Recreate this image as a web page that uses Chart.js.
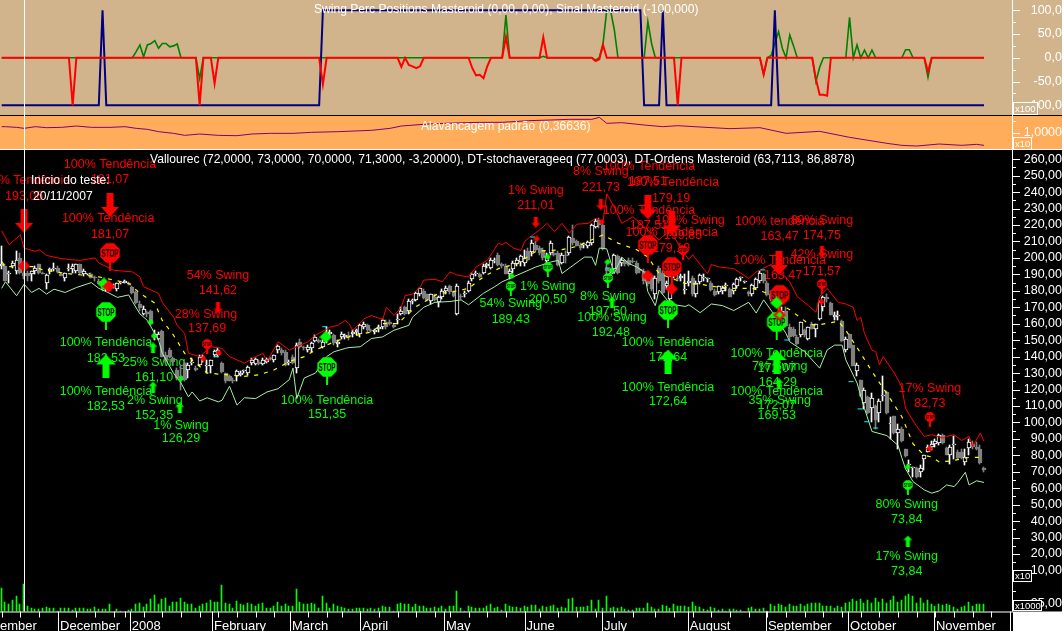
<!DOCTYPE html>
<html>
<head>
<meta charset="utf-8">
<title>Vallourec</title>
<script src="https://cdn.jsdelivr.net/npm/chart.js@4/dist/chart.umd.min.js"></script>
<style>
  html, body { margin: 0; height: 100%; background: #000; overflow: hidden; }
  #chart { position: absolute; left: -40px; top: 0; }
</style>
</head>
<body>
<canvas id="chart" width="1102" height="631"></canvas>
<script>
/* =========================
   DATA
========================= */

// month ticks on the bar index axis
const monthIdx = [-7.2, 15.1, 34.3, 56.3, 77.2, 96, 118.4, 140, 160.7, 183.7, 204.6, 226.6, 249.6, 270];
const monthNames = ["November", "December", "2008", "February", "March", "April", "May", "June", "July", "August", "September", "October", "November", ""];
const weekIdx = [0,5,10,20,25,30,33,38,43,48,53,58,63,68,73,82,87,91,96,101,106,111,116,120,125,130,135,140,144,149,154,159,164,169,175,180,185,190,195,200,205,210,215,220,225,230,235,240,245,250,255,260,265];

const opens = [
  195,195,190,195,192,200,191,191,190,192, 196,191,185,192,193,194,190,188,193,193,
  192,196,190,190,190,188,186,184,182,183, 183,181,185,185,185,182.5,179,172,166,167,
  168,152,151,155.5,141,144,139,132,128,136, 132,136,133,135,139,134,134,141,141,136,
  130,128,126,128,129,131,130,136,135.5,137, 135.5,137,139,138,144,144,143,136,140,133,
  149,146,144,145.5,149.5,150,146,152,154,153, 147.5,152,152,153,154,155,154,158,159,156,
  155,157,158,161,161,159,162,166,170,168, 174,174.5,178,180,178,174,176,173,176.5,180,
  183,179,166,177,178,180,187,190,190,191, 195,194,198,202,196,195,190,193,196,197.5,
  197,204,203.5,208,206,204,198,203,203,203, 197,202,203,212,210,208,208,207,209,219,
  223,220,194,190,193,201,197,198,199,198, 197,193,192,186,189,178,194,191,183,175,
  190,188,188,180.5,185,188,178,185.5,187.5,187, 185,180,179.5,180,183,181,180,183,187.5,185.5,
  179,178,182,186,190,185,178,175,172,166, 168,158,157,152,153,156,151,160,156.5,163,
  170,176,172.5,164,164.5,161.5,144,153.5,147,131, 126,112,115.5,109,110,105.5,116,118.5,99,104,
  93.5,96,84,74,72,72,70,77.5,82,85, 87,87.5,92.5,84.5,80.5,86,82,82,76,84.5,
  87,85,84,72
];
const highs = [
  207,196,192,198,204,203,192,192,192,195, 196,191.5,190,194,197,195,191,191,196,196,
  196,196.5,193,190.5,191,189,187,186,184,185, 184,185,185.5,186.5,185.5,183,180,174,171,168,
  168.5,156,155,156,143,145,140,133,135,137, 136,139,134,141,141,138,138,144,145,137,
  130,129,127,132,131,132,134,139,139,138, 139,139,140,141,147,145,144,138,141,148,
  151,146.5,147,149,153,151,150,158,156,154, 150,155,154,155,156,157,160,161,160,157,
  157,159,163,162,162,160,166,170,171,175, 175,179,182,181,178,178,178,177,181,183,
  183.5,180,184,178,180,186,191,192,191,196, 197,200,200,203,197,196,193,198,200,202,
  205,206,211,210,207,206,203,210,204,204, 203,204,213.5,220,211,209,209,210,220.5,223.5,
  224,221,198,193,202.5,202,200,199,200,200, 198,194,193,187,190,189,195,192,186,190,
  193,192,190,190,192,189,186,190,190,188, 186,181,183,183,185,182,185,188,188.5,186,
  180,184,188,192,191,186,180,176,175,170, 170,160,158,153,161,157,158,161,160,174,
  177,178,173,167,168,162,152,154,147,136, 126,121,116,118,110.5,114,128.5,119,103,104,
  99,97,84,77,73,73,74,80.5,86,89, 90,93,93,85,86,91.5,83,84,84,90,
  89,88,86,73
];
const lows = [
  193,186,185,194,190,190,187,186,186,190, 190,190,181,190,192,191,189,186,192,191,
  191,190,189,189.5,188,186,184,180,180,181, 182,180,184,184.5,183.5,178,172,168,165,164,
  159,150,150,140,136,139,135,126,120,125, 127,135,131,134,137,130,130,140,140,130,
  124,125,124,125,128,130,129,135,135,135, 135,136,138,137,142,141,134.5,135,135.5,130,
  145,144,143,143,149,148,145,148,152,147, 146,151,151,150,152,153,152,157,155,155,
  154,155,157,157,159,157.5,160,165,165,166, 172,174,177,175,174,172,174,170,175,178,
  178,176,165,175,176,179,186,189,188,190, 194,193,197,195,194,190,187,191,195,195,
  195,198,201,204,202,199,196,202,201,195, 196,197,202,208,207,205,206,206,208,218,
  218,205,190,187,191,190,195,195,195,197, 190,191,184,183,180,175,185,178,181,174,
  188,186,186,178,183,177,176,184,186,185.5, 180,177,178,178,180,176,178,182,186,185,
  177,177,181,185,185,177,174,172,168,160, 158,150,152,147,152,152,150,157,152,162,
  168,173,165,162,162,149,143,145,134,128, 115.5,108,105,100,96,100,113,105,90,93,
  84,88,79,70,67,66.5,67,71,82,83, 85,86,87,80,75,78,78,78,74,80,
  84,83,75,70
];
const closes = [
  196,186,191,197,199,191,189,189,192,194, 191,190.5,189.5,193,194,191.5,189,191,194,195,
  196,191,192,190,188,187.5,184,181,183,182, 183,185,185,186,184,178.5,172.5,169.5,169,166,
  160,154,154,140,138,140,137,127,126,126, 135,137,132,140,140,134,138,143.5,144,130.5,
  125,125,125,131,130,131.5,133.5,138,138.5,135.5, 138,138.5,138.5,141,146.5,142,135,136,136,147,
  146,145,146,148,152,149,149,154,155,148, 149,154,153,152,155,156,159,160,156,155.5,
  156,158,162.5,158,160,158,162.5,168,166,174, 174.5,178.5,182,175.5,174.5,178,174.5,176,180,182,
  179,177,183,176,178.5,185,190,191,188.5,195, 196,199,198.5,195.5,195,190.5,192,197,199,201,
  200,199,209,205,203,200,201,209,202,195.5, 202,201,213,209,207.5,206,208,209.5,220,222.5,
  220,205.5,192,190,202,191,199,196,195.5,197.5, 191,192,186,184,181,188,186,178.5,185,189,
  192,187,189,181,186,178,185,189.5,188,187.5, 180.5,177.5,183,182,183.5,176.5,184,187,188,185.5,
  178,183.5,187,191,186,177.5,175,174,170,168, 158.5,152,152.5,147.5,161,153,158,157,160,173.5,
  176,175,165.5,165.5,164.5,149.5,151,145,134.5,135, 116,120,106,115,101.5,113,116.5,105.5,99,93.5,
  96,88.5,79.5,74.5,72,67,72.5,80,85,87, 89,92.5,87.5,80.5,85,86,78.5,78.5,79,88,
  85,84,75.5,71.3
];

const upperIdx = [0,2,5,6,9,10,12,15,18,21,25,26,30,35,37,38,42,43,44,46,47,49,50,53,56,59,61,65,68,70,71,74,77,79,82,84,88,90,92,93,94,97,99,102,103,105,107,108,110,112,113,116,118,120,122,125,127,130,133,134,135,137,139,140,141,144,146,148,150,152,154,157,159,161,162,164,166,169,172,176,179,182,184,185,187,189,190,192,196,200,202,206,209,211,213,216,218,219,221,224,226,228,229,230,231,233,234,235,236,239,241,242,245,247,249,252,253,255,257,259,260,262,263];
const upperVal = [216.5,208,214,206,204,205,201.5,200,199,198.5,200,197,192.5,191.5,188.5,182.5,178.5,173,170,164,159,154,142,140,146,145,140,136,140,142,137,149,144,146,149,153,158,159,162,160,156,163,165,162.5,170,165,170,177,178,182,186.5,187,185.5,191.5,189.5,188.5,194.5,198.5,209,208,209.5,206,204.5,210,212,217,221,216,221,215,220.5,221,224,222,239,231,221,225,219,211,217,205,199,202,196,190.5,196,194.5,193.5,187.5,191.5,196,190.5,185.5,176.5,171,167,176.5,181.5,173,172,170,162,164,154,144,143,135,140,130,121.5,108.5,97.5,91.5,92.5,90.5,91.5,92.5,89,91.5,85.5,93.5,88.5];

const lowerIdx = [0,1,4,6,8,10,12,14,17,20,24,26,28,31,34,35,37,39,42,43,46,48,50,51,53,55,58,59,61,63,65,68,71,74,77,78,79,81,84,87,89,92,93,96,99,102,105,109,110,113,116,120,123,125,129,132,134,138,143,147,149,150,153,156,158,159,160,162,164,166,168,170,172,173,175,176,179,183,184,187,190,193,196,200,202,204,207,210,211,215,217,219,221,223,225,226,229,231,233,237,240,241,242,244,247,249,251,253,255,256,258,259,261,263];
const lowerVal = [181.5,185.5,177,184,179,181.5,178,181,179,182,185,181.5,179.5,176,177.5,173.5,166,162,150,142,130,124,115.5,118.5,113,115,112.5,113.5,122,110.5,115,114.5,118.5,120.5,126,133,114.5,127,130,140,143,145,145.5,146,151,152,156,159,164,170,173,173.5,174.5,171.5,178.5,182.5,185.5,189.5,194.5,197.5,198.5,190.5,195.5,200.5,200.5,195.5,206,205.5,190.5,200.5,196.5,194.5,191.5,179.5,171,180.5,172,170.5,171.5,166.7,172,171,168,173,166.5,174.5,165,154,149,143,138,133,144,147,147,138,124,108.5,94.5,92,86,78.5,71.7,64,59,57,58.4,62,61,63.5,69.7,62,64.5,63.5];

const avgIdx = [0,1,9,11,17,22,26,30,34,37,41,43,46,49,52,55,60,65,69,73,77,81,84,89,93,99,102,106,111,117,120,125,129,133,138,143,150,154,158,161,165,170,173,176,183,187,191,196,201,205,208,211,216,218,224,226,230,233,238,241,244,247,249,251,254,259,262];
const avgVal = [197.7,194.7,194.7,192.6,190.6,189.5,188.5,186.6,184.5,178.5,172.5,162,153,142,136,130,129,128,129,132,137,140,144,149,152,155,160,160,170.5,178.5,179,181.5,188.5,193.5,196.5,204,205,207,211,214,209,205,200.5,190.5,184.5,184,182.5,181.5,181.5,178.5,172.5,168.5,160,159,161.5,156,142,131,114,103.5,87,80,79,76,76.5,78.7,78.7];

const volumes = [
  72,28,22,36,48,22,82,18,12,7, 9,12,15,12,12,2,12,12,12,6,
  10,12,12,9,9,15,9,9,9,22, 0,9,3,0,6,9,22,27,15,22,
  38,50,22,38,42,18,30,30,42,30, 22,22,12,16,22,25,36,30,30,80,
  27,22,12,33,22,20,25,22,16,22, 25,12,12,18,30,18,22,16,18,68,
  30,22,22,25,22,12,48,27,12,22, 18,15,12,9,9,10,10,12,9,12,
  9,12,18,15,15,3,22,25,22,22, 15,22,18,18,12,12,15,12,18,9,
  18,18,63,12,3,18,15,12,12,12, 18,22,12,15,6,22,18,15,15,12,
  18,15,20,20,8,18,15,18,20,12, 15,12,38,42,15,15,15,18,36,8,
  36,12,48,12,15,12,15,8,6,6, 12,12,12,27,15,9,9,20,18,12,
  24,18,18,18,15,30,18,15,9,6, 15,12,6,9,3,9,9,6,6,0,
  12,15,9,9,12,3,22,18,22,20, 15,24,18,18,24,18,24,27,27,27,
  18,18,18,12,18,15,27,30,38,33, 38,27,36,27,40,30,38,27,36,48,
  30,36,48,54,48,27,42,27,36,24, 18,24,20,24,20,15,9,15,18,30,
  18,24,24,24
];

const swingGreenIdx = [0,35,36,37,38,39,40,41,42,43,44,45,46,47,48,52,53,54,134,135,136,144,145,146,158,159,160,161,162,163,164,165,172,173,174,175,203,204,205,206,207,208,209,210,211,212,213,217,218,219,220,226,227,228,229,230,231,232,233,234,241,242,243,244,247,248,249,263];
const swingGreenVal = [0,0,13,27,2,27,30,36,20,30,30,23,25,29,0,0,-44,0,0,90,0,0,3,0,0,-5,0,30,100,100,60,0,0,76,30,0,0,-35,0,5,30,55,20,0,48,25,0,0,-50,-20,0,0,85,0,27,0,16,0,16,0,0,17,17,0,0,-41,0,0];
const swingRedIdx = [0,18,19,20,52,53,54,56,57,58,85,86,87,106,107,108,109,110,111,112,113,125,126,127,128,129,130,131,134,135,136,144,145,146,158,159,160,161,162,180,181,182,203,204,205,217,218,219,220,221,222,247,248,249,263];
const swingRedVal = [0,0,-100,0,0,-100,0,0,-54,0,0,-56,0,0,-19,0,-15,-18,-22,-18,0,0,-22,-37,-36,-43,-18,0,0,44,0,0,43,0,0,-7,-3,27,0,0,-100,0,0,-35,0,0,-45,-78,-78,-80,0,0,-30,0,0];
const signalIdx = [0,26,27,28,85,86,171,172,176,177,178,206,207,208,263];
const signalVal = [-100,-100,100,-100,-100,100,100,-100,-100,100,-100,-100,100,-100,-100];

const leverageIdx = [0,1,4,6,9,12,16,20,24,29,33,36,39,42,46,49,53,58,63,67,72,78,83,90,99,104,107,114,121,128,134,141,147,152,158,160,162,166,172,177,181,187,195,203,210,219,227,237,241,245,251,257,261,263];
const leverageVal = [1.321,1.321,1.287,1.237,1.321,1.271,1.287,1.355,1.287,1.287,1.321,1.237,1.186,1.067,0.983,0.881,0.949,0.881,0.864,0.949,0.983,0.983,1.034,1.067,1.135,1.237,1.355,1.456,1.507,1.541,1.541,1.626,1.66,1.694,1.694,1.795,1.491,1.525,1.406,1.321,1.372,1.304,1.22,1.271,0.983,1.084,0.78,0.475,0.374,0.34,0.441,0.374,0.424,0.374];

const cyanMarks = [[57.5,140],[86.5,158.2],[142.2,212.7],[162.3,193.9],[203.8,192.7],[210.2,150.1],[227.4,124.8],[229.8,108.2],[231.6,100.4],[234,96.6]];

// order marks: [bar index, price]
const redBigArrows = [[6,222.5],[29,232.2],[173,230.7],[179.4,221],[208.1,196.9]];
const redSmallArrows = [[57.9,169.6],[143,221.8],[160.4,232.5],[219.6,203.6]];
const greenBigArrows = [[27.9,134],[178.4,137],[207.5,136.7]];
const greenSmallArrows = [[40.5,145.3],[40.5,121.5],[47.7,108.8],[163.4,173.2],[208.1,123.4],[242.6,27.9]];
const redBigStops = [[29,203],[173,207.9],[179.4,194.5],[208.3,177.5]];
const greenBigStops = [[27.9,167.1],[178.4,168.3],[87.1,133.7],[207.5,161.1]];
const redSmallStops = [[55,147.7],[182.4,204.8],[219.6,184.2],[248.5,103.3]];
const greenSmallStops = [[136.3,182.9],[146.2,194.5],[162.3,187.8],[242.6,62]];
const greenBigDiamonds = [[27.4,184.2],[86.8,151.9],[207.5,172.6]];
const redBigDiamonds = [[6,195.1],[28.7,182.6],[173,189],[179.4,181.1],[208.3,165.3]];
const redSmallDiamonds = [[143.3,211.5],[160.7,221.8],[54,138.6],[58.2,142.2],[248.5,84],[219.6,173.2]];
const greenSmallDiamonds = [[39.9,161],[40.8,152.5],[48,126.4],[136.6,189],[146.2,200.6],[162.3,197.5],[163.4,192.1],[242.6,72.9],[208.3,165.3]];

// order texts: [text, bar index, price]
const redTexts = [
  ["100% Tendência",29,256.5],["181,07",29,247.4],["100% Tendência",6,246.9],["193,06",6,237.2],
  ["100% Tendência",28.5,223.7],["181,07",29,214.5],["54% Swing",57.9,189],["141,62",57.9,179.9],
  ["28% Swing",54.7,165.3],["137,69",55,156.8],["1% Swing",143,240.7],["211,01",143,231.6],
  ["8% Swing",160.4,252.2],["221,73",160.4,242.5],["100% Tendência",173.3,255.3],["187,51",173,246.2],
  ["100% Tendência",179.7,245.6],["179,19",179.2,235.8],["100% Tendência",173.3,228.5],["187,51",173.3,219.4],
  ["100% Swing",184.3,222.5],["199,85",182.4,213.3],["100% Tendência",179.4,215.2],["179,19",179.2,206],
  ["100% tendência",208.3,222],["163,47",208.3,212.7],["80% Swing",219.6,223],["174,75",219.6,213.5],
  ["42% Swing",219.6,201.8],["171,57",219.6,192],["100% Tendência",208.3,198.1],["163,47",209.2,189],
  ["17% Swing",248.5,120.3],["82,73",248.5,111.2]
];
const greenTexts = [
  ["100% Tendência",27.9,148.3],["182,53",27.9,138.6],["100% Tendência",27.9,118.5],["182,53",27.9,109.4],
  ["25% Swing",40.8,136.1],["161,10",40.8,127],["2% Swing",41,113],["152,35",40.8,103.9],
  ["1% Swing",48,98.4],["126,29",48,89.9],["100% Tendência",87.1,113.6],["151,35",87.1,104.5],
  ["54% Swing",136.3,172],["189,43",136.3,162.3],["1% Swing",146.2,182.9],["200,50",146.2,174.4],
  ["8% Swing",162.3,176.3],["197,50",162.3,167.7],["100% Swing",163.4,163.5],["192,48",163.1,154.4],
  ["100% Tendência",178.4,148.5],["172,64",178.4,139.2],["100% Tendência",178.4,121.5],["172,64",178.4,112.4],
  ["100% Tendência",207.5,141.6],["172,07",207.5,132.5],["7% Swing",208.3,133.7],["164,29",207.8,124.1],
  ["100% Tendência",207.5,118.7],["172,07",207.5,110],["35% Swing",208.3,113],["169,53",207.5,104.1],
  ["80% Swing",242.3,49.9],["73,84",242.3,40.7],["17% Swing",242.3,18.4],["73,84",242.3,9.3]
];

const swingTicks = [100, 50, 0, -50, -100];
const leverageTicks = [1];
const priceTicks = [260,250,240,230,220,210,200,190,180,170,160,150,140,130,120,110,100,90,80,70,60,50,40,30,20,10];
const volumeTicks = [25];

/* =========================
   ICONS FOR THE ORDER MARKS
========================= */

const FONT = '"Liberation Sans", Arial, sans-serif';
const LIME = "#00ff00";
const RED = "#ff0000";
const LEFT_SHIFT = 40; // canvas starts left of the window, month and order text is cut there

function newIcon(w, h) {
  const c = document.createElement("canvas");
  c.width = w;
  c.height = h;
  return c;
}

function arrowIcon(color, up, w, h, shaft) {
  const c = newIcon(w, h), g = c.getContext("2d");
  const head = h * 0.42;
  g.fillStyle = color;
  if (!up) { g.translate(0, h); g.scale(1, -1); }
  g.beginPath();
  g.moveTo(w / 2, 0);
  g.lineTo(w, head);
  g.lineTo(w / 2 + shaft / 2, head);
  g.lineTo(w / 2 + shaft / 2, h);
  g.lineTo(w / 2 - shaft / 2, h);
  g.lineTo(w / 2 - shaft / 2, head);
  g.lineTo(0, head);
  g.closePath();
  g.fill();
  return c;
}

function stopIcon(color, r, stem, fontPx) {
  const w = r * 2 + 2, h = stem * 2 + 2;
  const c = newIcon(w, h), g = c.getContext("2d");
  const cx = w / 2, cy = h / 2;
  g.fillStyle = color;
  g.fillRect(cx - 1, cy, 2, stem);
  g.beginPath();
  for (let i = 0; i < 8; i++) {
    const a = Math.PI / 8 + i * Math.PI / 4;
    g.lineTo(cx + Math.cos(a) * r * 1.05, cy + Math.sin(a) * r * 1.05);
  }
  g.closePath();
  g.fill();
  g.fillStyle = "#000000";
  g.font = "bold " + fontPx + "px " + FONT;
  g.textAlign = "center";
  g.textBaseline = "middle";
  g.fillText("STOP", cx, cy + 0.5, r * 1.7);
  return c;
}

function diamondIcon(color, r) {
  const c = newIcon(r * 2 + 1, r * 2 + 1), g = c.getContext("2d");
  const m = r + 0.5;
  g.fillStyle = color;
  g.beginPath();
  g.moveTo(m, 0);
  g.lineTo(m + r, m);
  g.lineTo(m, m + r);
  g.lineTo(0, m);
  g.closePath();
  g.fill();
  return c;
}

/* =========================
   DATASETS
========================= */

const xy = (xs, ys) => xs.map((x, i) => ({ x: x, y: ys[i] }));
const pts = list => list.map(p => ({ x: p[0], y: p[1] }));
const isUp = i => closes[i] >= opens[i];

function lineSet(idx, val, axis, color, width, dash) {
  return {
    type: "line", yAxisID: axis, data: xy(idx, val),
    borderColor: color, borderWidth: width, borderDash: dash || [],
    pointRadius: 0, tension: 0, fill: false
  };
}

function markSet(list, icon) {
  return {
    type: "scatter", yAxisID: "price", data: pts(list),
    pointStyle: icon, pointRadius: 6, showLine: false
  };
}

const datasets = [
  lineSet(swingGreenIdx, swingGreenVal, "swing", "#008000", 1.6),
  lineSet(signalIdx, signalVal, "swing", "#000080", 2),
  lineSet(swingRedIdx, swingRedVal, "swing", RED, 2),
  lineSet(leverageIdx, leverageVal, "leverage", "#800080", 1),
  {
    type: "bar", yAxisID: "volume", grouped: false, barThickness: 1,
    data: volumes.map((v, i) => ({ x: i, y: v })),
    backgroundColor: LIME
  },
  {
    type: "bar", yAxisID: "price", grouped: false, barThickness: 1,
    data: lows.map((l, i) => ({ x: i, y: [l, highs[i]] })),
    backgroundColor: lows.map((l, i) => isUp(i) ? "#ffffff" : "#808080")
  },
  {
    type: "bar", yAxisID: "price", grouped: false, barThickness: 4, minBarLength: 1,
    data: opens.map((o, i) => ({ x: i, y: [o, closes[i]] })),
    backgroundColor: opens.map((o, i) => isUp(i) ? "#000000" : "#808080"),
    borderColor: opens.map((o, i) => isUp(i) ? "#ffffff" : "#808080"),
    borderWidth: 1, borderSkipped: false
  },
  lineSet(upperIdx, upperVal, "price", RED, 1),
  lineSet(lowerIdx, lowerVal, "price", "#a8f0a8", 1),
  lineSet(avgIdx, avgVal, "price", "#ffff00", 1.2, [4, 6]),
  {
    type: "scatter", yAxisID: "price", data: pts(cyanMarks),
    pointStyle: "line", pointRadius: 2.5, borderColor: "#00ffff", borderWidth: 1, showLine: false
  },
  markSet(greenBigStops, stopIcon(LIME, 10, 18, 11)),
  markSet(redBigStops, stopIcon(RED, 10, 18, 11)),
  markSet(greenSmallStops, stopIcon(LIME, 5, 10, 6)),
  markSet(redSmallStops, stopIcon(RED, 5, 10, 6)),
  markSet(redBigArrows, arrowIcon(RED, false, 18, 24, 7)),
  markSet(greenBigArrows, arrowIcon(LIME, true, 20, 24, 7)),
  markSet(redSmallArrows, arrowIcon(RED, false, 9, 11, 4)),
  markSet(greenSmallArrows, arrowIcon(LIME, true, 9, 11, 4)),
  markSet(greenBigDiamonds, diamondIcon(LIME, 6)),
  markSet(redBigDiamonds, diamondIcon(RED, 6)),
  markSet(redSmallDiamonds, diamondIcon(RED, 3)),
  markSet(greenSmallDiamonds, diamondIcon(LIME, 3))
];
// chart.js paints the lowest order last
datasets.forEach((d, k) => { d.order = datasets.length - k; });

/* =========================
   PANELS, TICK MARKS, TEXT
========================= */

function panelText(g, text, x, y, color, size) {
  g.fillStyle = color;
  g.font = (size || 12.1) + "px " + FONT;
  g.textAlign = "left";
  g.textBaseline = "middle";
  g.fillText(text, x + LEFT_SHIFT, y);
}

function unitBox(g, text, x, y, w, h, fill) {
  g.fillStyle = fill;
  g.fillRect(x + LEFT_SHIFT, y, w, h);
  g.strokeStyle = "#ffffff";
  g.lineWidth = 1;
  g.strokeRect(x + LEFT_SHIFT + 0.5, y + 0.5, w - 1, h - 1);
  panelText(g, text, x + 2, y + h / 2 + 0.5, "#ffffff", 9.5);
}

// the reference has no anti-aliasing on its bars, so snap them to whole pixels
function snapBars(chart) {
  chart.getSortedVisibleDatasetMetas().forEach(meta => {
    if (meta.type !== "bar") return;
    meta.data.forEach(b => {
      const c = Math.round(b.x);
      b.x = b.width % 2 ? c - 0.5 : c;
      b.y = Math.round(b.y);
      b.base = Math.round(b.base);
      if (b.y === b.base) b.base = b.y + 1;
    });
  });
}

const overlay = {
  id: "overlay",
  beforeDraw(chart) {
    const g = chart.ctx, s = chart.scales;
    const w = chart.width;
    g.save();
    g.fillStyle = "#000000";
    g.fillRect(0, 0, w, chart.height);
    g.fillStyle = "#d2b48c";
    g.fillRect(0, s.swing.top, w, s.swing.bottom - s.swing.top);
    g.fillStyle = "#ffad5b";
    g.fillRect(0, s.leverage.top, w, s.leverage.bottom - s.leverage.top);
    g.fillStyle = "#ffffff";
    g.fillRect(s.x.right, s.x.top, w - s.x.right, chart.height - s.x.top);
    g.restore();
  },
  beforeDatasetsDraw(chart) {
    snapBars(chart);
    const g = chart.ctx, s = chart.scales;
    g.save();
    g.font = "12.5px " + FONT;
    g.textAlign = "center";
    g.textBaseline = "middle";
    [[redTexts, RED], [greenTexts, LIME]].forEach(([list, color]) => {
      g.fillStyle = color;
      list.forEach(t => g.fillText(t[0], s.x.getPixelForValue(t[1]), s.price.getPixelForValue(t[2])));
    });
    g.restore();
  },
  afterDatasetsDraw(chart) {
    const g = chart.ctx, s = chart.scales;
    const right = s.x.right, bottom = s.x.top;
    g.save();

    // separators and axis lines
    g.fillStyle = "#000000";
    g.fillRect(0, s.swing.bottom, chart.width, 1);
    g.fillStyle = "#ffffff";
    g.fillRect(0, s.leverage.bottom - 1, chart.width, 1);
    g.fillRect(right - 1, 0, 1, bottom);
    g.fillRect(0, bottom, right, 1);

    // tick marks on the y axes, short ones between the labelled ones
    const ticks = (scale, major, minor) => {
      major.forEach(v => g.fillRect(right, Math.round(scale.getPixelForValue(v)), 7, 1));
      minor.forEach(v => g.fillRect(right, Math.round(scale.getPixelForValue(v)), 3, 1));
    };
    ticks(s.swing, swingTicks, [75, 25, -25, -75]);
    ticks(s.leverage, leverageTicks, [1.6, 0.4]);
    ticks(s.price, priceTicks, priceTicks.map(v => v - 5));
    ticks(s.volume, volumeTicks, [62]);

    // tick marks below the bars
    monthIdx.forEach(v => g.fillRect(Math.round(s.x.getPixelForValue(v)), bottom, 1, chart.height - bottom));
    weekIdx.forEach(v => g.fillRect(Math.round(s.x.getPixelForValue(v)), bottom, 1, 6));

    // start of test marker
    g.fillRect(Math.round(s.x.getPixelForValue(6)), 0, 1, bottom);

    panelText(g, "Swing Perc Positions Masteroid (0,00, 0,00), Sinal Masteroid (-100,000)", 314, 10, "#ffffff");
    panelText(g, "Alavancagem padrão (0,36636)", 421, 127, "#ffffff");
    panelText(g, "Vallourec (72,0000, 73,0000, 70,0000, 71,3000, -3,20000), DT-stochaverageeq (77,0003), DT-Ordens Masteroid (63,7113, 86,8878)", 150, 160, "#ffffff");
    panelText(g, "Início do teste:", 31, 181, "#ffffff");
    panelText(g, "20/11/2007", 33, 197, "#ffffff");

    unitBox(g, "x100", 1013, 102, 25, 13, "#d2b48c");
    unitBox(g, "x10", 1013, 137, 19, 13, "#ffad5b");
    unitBox(g, "x10", 1013, 570, 19, 12, "#000000");
    unitBox(g, "x1000", 1013, 600, 29, 11, "#000000");
    g.restore();
  }
};

/* =========================
   CHART
========================= */

function noPadding(scale) {
  scale.paddingTop = 0;
  scale.paddingBottom = 0;
  scale.paddingLeft = 0;
  scale.paddingRight = 0;
}

function yAxis(order, weight, min, max, values, decimals, padding) {
  return {
    type: "linear", position: "right", stack: "panels", stackWeight: weight, weight: order,
    min: min, max: max, offset: false, beginAtZero: false,
    grid: { display: false, drawTicks: false },
    border: { display: false },
    afterFit(scale) { scale.width = 49; noPadding(scale); },
    afterBuildTicks(scale) { scale.ticks = values.map(v => ({ value: v })); },
    ticks: {
      color: "#ffffff", font: { family: FONT, size: 12.5 }, autoSkip: false,
      padding: padding, crossAlign: "far",
      callback: v => v.toFixed(decimals).replace(".", ",")
    }
  };
}

new Chart(document.getElementById("chart"), {
  type: "bar",
  data: { datasets: datasets },
  plugins: [overlay],
  options: {
    responsive: false,
    devicePixelRatio: 1,
    animation: false,
    layout: { padding: 0, autoPadding: false },
    events: [],
    plugins: { legend: { display: false }, tooltip: { enabled: false }, title: { display: false } },
    scales: {
      x: {
        type: "linear", min: -11.16, max: 270.76, offset: false,
        grid: { display: false, offset: false, drawTicks: false },
        border: { display: false },
        afterFit(scale) { scale.height = 19.5; noPadding(scale); },
        afterBuildTicks(scale) { scale.ticks = monthIdx.map(v => ({ value: v })); },
        ticks: {
          color: "#ffffff", font: { family: FONT, size: 13 }, autoSkip: false, maxRotation: 0,
          align: "start", labelOffset: 2, padding: 7,
          callback: (v, i) => monthNames[i]
        }
      },
      swing: yAxis(1, 115, -120.4, 121.5, swingTicks, 1, 12),
      leverage: yAxis(2, 35, 0.137, 1.914, leverageTicks, 4, 6),
      price: yAxis(3, 432, 3, 265.6, priceTicks, 2, 6),
      volume: yAxis(4, 29.5, 0, 88.5, volumeTicks, 2, 13)
    }
  }
});
</script>
</body>
</html>
